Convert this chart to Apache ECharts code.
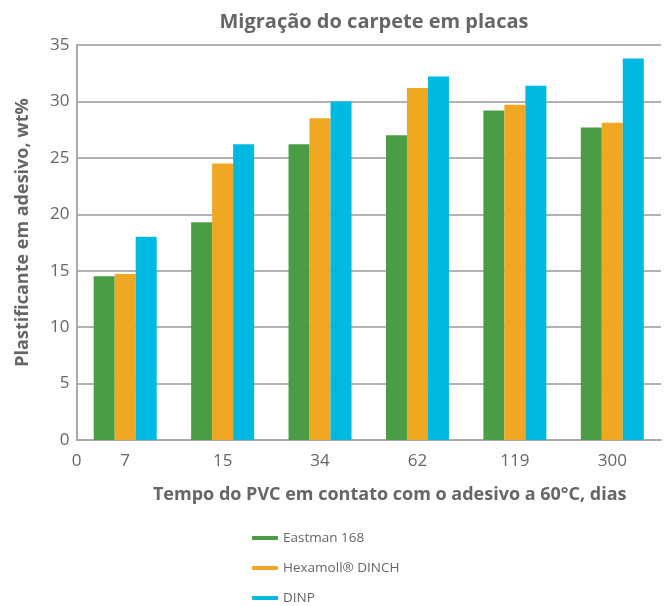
<!DOCTYPE html>
<html><head><meta charset="utf-8">
<script src="https://cdn.jsdelivr.net/npm/echarts@6/dist/echarts.min.js"></script>
<style>html,body{margin:0;padding:0;background:#fff}#c{width:665px;height:606px}</style>
</head><body><div id="c"></div>
<script>
const categories = ['7', '15', '34', '62', '119', '300'];
const eastman168 = [14.5, 19.3, 26.2, 27.0, 29.2, 27.7];
const hexamollDinch = [14.7, 24.5, 28.5, 31.2, 29.7, 28.1];
const dinp = [18.0, 26.2, 30.0, 32.2, 31.4, 33.8];
const originLabels = ['0', '', '', '', '', '', ''];
const seriesNames = ['Eastman 168', 'Hexamoll® DINCH', 'DINP'];

const FONT = 'Open Sans';
const chart = echarts.init(document.getElementById('c'));
const colors = ['#4a9c45', '#f0a722', '#00b9e3'];
chart.setOption({
  animation: false,
  color: colors,
  title: {
    text: 'Migração do carpete em placas',
    left: 369, textAlign: 'center', top: 7,
    textStyle: { fontFamily: FONT, fontSize: 20, fontWeight: 'bold', color: '#666' }
  },
  legend: {
    orient: 'vertical', left: 252, top: 531, padding: 0,
    itemWidth: 26, itemHeight: 4, itemGap: 16,
    icon: 'roundRect',
    textStyle: { fontFamily: FONT, fontSize: 13.5, color: '#666', lineHeight: 14 },
    data: seriesNames
  },
  grid: { left: 76.5, right: 4, top: 45, bottom: 166, containLabel: false },
  xAxis: [{
    type: 'category', data: categories,
    axisLine: { lineStyle: { color: '#aaa', width: 2 } },
    axisTick: { show: false },
    axisLabel: { fontFamily: FONT, fontSize: 17, color: '#666', margin: 13 },
    name: 'Tempo do PVC em contato com o adesivo a 60°C, dias',
    nameLocation: 'middle', nameGap: 46,
    nameTextStyle: { fontFamily: FONT, fontSize: 18, fontWeight: 'bold', color: '#666', padding: [0, 0, 0, 42] }
  }, {
    type: 'category', data: originLabels, position: 'bottom', boundaryGap: false,
    axisLine: { show: false }, axisTick: { show: false }, splitLine: { show: false },
    axisLabel: { fontFamily: FONT, fontSize: 17, color: '#666', margin: 13, interval: 0 }
  }],
  yAxis: {
    type: 'value', min: 0, max: 35, interval: 5,
    axisLine: { show: true, lineStyle: { color: '#aaa', width: 2 } },
    axisTick: { show: false },
    splitLine: { lineStyle: { color: '#999', width: 1.5 } },
    axisLabel: { fontFamily: FONT, fontSize: 17, color: '#666', margin: 7 },
    name: 'Plastificante em adesivo, wt%',
    nameLocation: 'middle', nameGap: 45, nameRotate: 90,
    nameTextStyle: { fontFamily: FONT, fontSize: 18, fontWeight: 'bold', color: '#666', padding: [0, 0, 0, 20] }
  },
  series: [
    { name: seriesNames[0], type: 'bar', data: eastman168, barWidth: 21, barGap: '0%', z: 3 },
    { name: seriesNames[1], type: 'bar', data: hexamollDinch, barWidth: 21, barGap: '0%', z: 3 },
    { name: seriesNames[2], type: 'bar', data: dinp, barWidth: 21, barGap: '0%', z: 3 }
  ]
});
</script></body></html>
